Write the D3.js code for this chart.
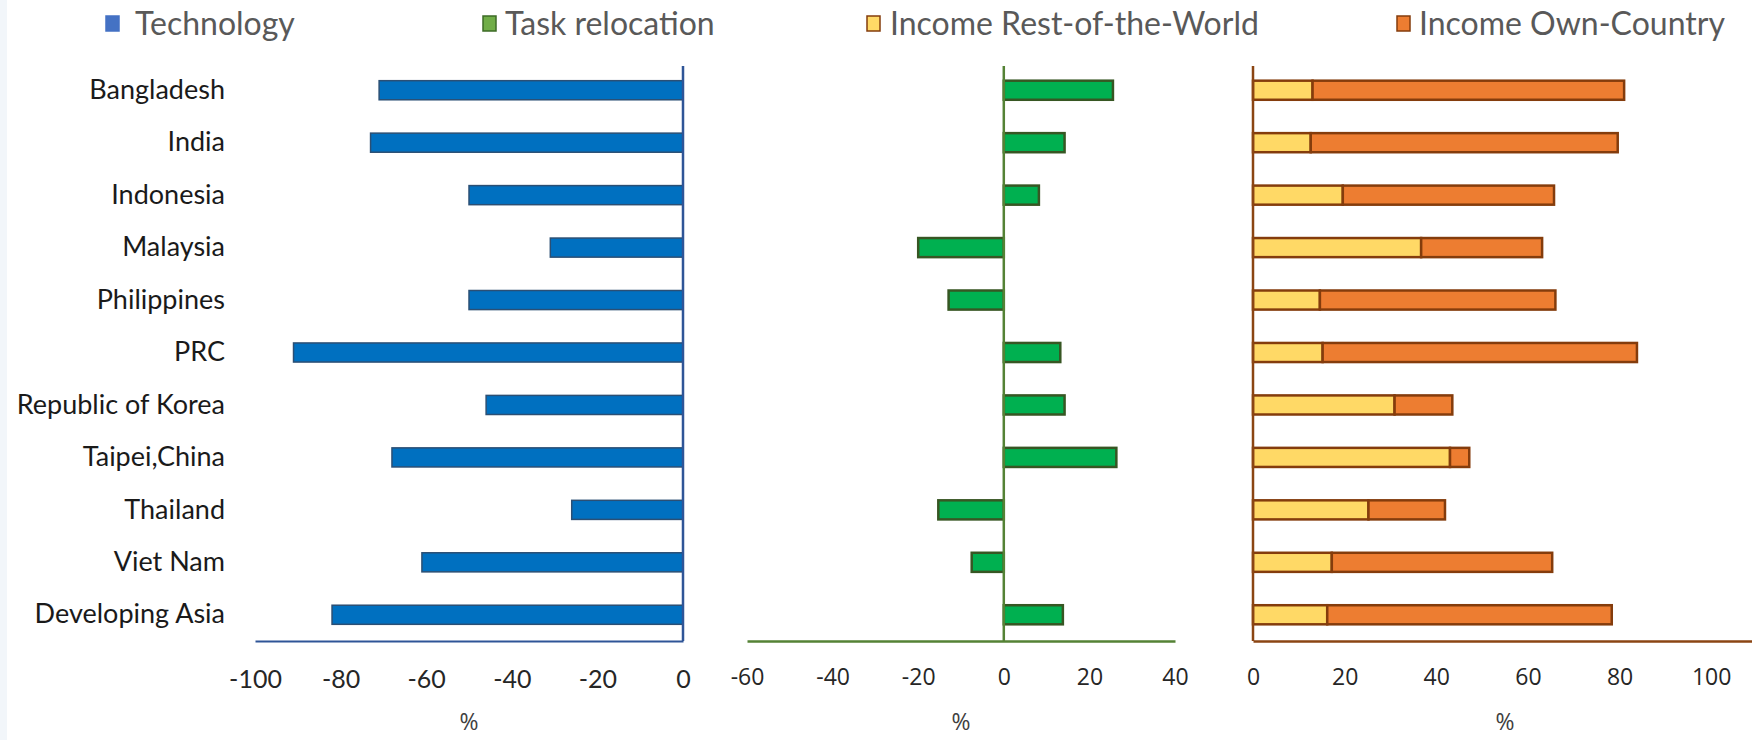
<!DOCTYPE html>
<html>
<head>
<meta charset="utf-8">
<script src="https://cdn.jsdelivr.net/npm/d3@7"></script>
<style>
  html, body { margin: 0; padding: 0; background: #ffffff; }
  svg { display: block; }
</style>
</head>
<body>
<svg id="chart" width="1752" height="740"></svg>
<script>
// Economies shown on every panel, top to bottom
const categories = ["Bangladesh", "India", "Indonesia", "Malaysia", "Philippines", "PRC",
  "Republic of Korea", "Taipei,China", "Thailand", "Viet Nam", "Developing Asia"];

// Contribution to employment change, %
const technology = [-71, -73, -50, -31, -50, -91, -46, -68, -26, -61, -82];
const taskRelocation = [25.5, 14.2, 8.2, -20, -12.9, 13.2, 14.2, 26.3, -15.3, -7.5, 13.8];
const incomeRestOfWorld = [13.0, 12.6, 19.6, 36.7, 14.6, 15.2, 30.9, 43.0, 25.2, 17.2, 16.2];
const incomeOwnCountry = [68.0, 67.0, 46.1, 26.4, 51.4, 68.6, 12.6, 4.2, 16.7, 48.1, 62.1];

// Axis tick values per panel
const technologyTicks = [-100, -80, -60, -40, -20, 0];
const taskTicks = [-60, -40, -20, 0, 20, 40];
const incomeTicks = [0, 20, 40, 60, 80, 100];

const legendItems = ["Technology", "Task relocation", "Income Rest-of-the-World", "Income Own-Country"];

const svg = d3.select("#chart");

// faint strip at the left edge
svg.append("rect").attr("x", 0).attr("y", 0).attr("width", 7).attr("height", 740).attr("fill", "#f2f6fa");

const axisY = 641;
const y = d3.scaleBand().domain(categories).range([64, axisY]).paddingInner(0.636).paddingOuter(0.318);

const xTech = d3.scaleLinear().domain([-100, 0]).range([255, 683]);
const xTask = d3.scaleLinear().domain([-60, 40]).range([747, 1175]);
const xInc = d3.scaleLinear().domain([0, 110]).range([1253, 1757]);

const narrowFont = "Lato, 'Noto Sans', sans-serif";
const roundFont = "'Open Sans', 'Noto Sans', sans-serif";

function bottomAxis(scale, ticks, color, width, font, size, pad) {
  const g = svg.append("g").attr("transform", `translate(0,${axisY})`)
    .call(d3.axisBottom(scale).tickValues(ticks).tickFormat(d => String(d))
      .tickSize(0).tickSizeOuter(0).tickPadding(pad));
  g.select(".domain").attr("stroke", color).attr("stroke-width", width);
  g.selectAll("text").attr("font-family", font).attr("font-size", size).attr("fill", "#262626");
  return g;
}

function zeroLine(scale, color, width) {
  svg.append("line")
    .attr("x1", scale(0)).attr("x2", scale(0))
    .attr("y1", 66).attr("y2", axisY)
    .attr("stroke", color).attr("stroke-width", width);
}

function percentLabel(scale) {
  const r = scale.range();
  svg.append("text").attr("x", (r[0] + r[1]) / 2).attr("y", 730)
    .attr("text-anchor", "middle").attr("font-family", roundFont).attr("font-size", 23)
    .attr("fill", "#404040").text("%");
}

// ---- Panel 1: technology ----
svg.append("g").selectAll("rect").data(categories).join("rect")
  .attr("x", (d, i) => xTech(Math.min(0, technology[i])))
  .attr("width", (d, i) => Math.abs(xTech(technology[i]) - xTech(0)))
  .attr("y", d => y(d)).attr("height", y.bandwidth())
  .attr("fill", "#0070C0").attr("stroke", "#2b4f74").attr("stroke-width", 1.5);

bottomAxis(xTech, technologyTicks, "#2F5597", 2, narrowFont, 25, 29);
zeroLine(xTech, "#2F5597", 2.5);
percentLabel(xTech);

// category labels
const yAxis = svg.append("g").attr("transform", `translate(${xTech.range()[0]},0)`)
  .call(d3.axisLeft(y).tickSize(0).tickPadding(30));
yAxis.select(".domain").remove();
yAxis.selectAll("text").attr("font-family", narrowFont).attr("font-size", 27).attr("fill", "#1a1a1a");

// ---- Panel 2: task relocation ----
svg.append("g").selectAll("rect").data(categories).join("rect")
  .attr("x", (d, i) => xTask(Math.min(0, taskRelocation[i])))
  .attr("width", (d, i) => Math.abs(xTask(taskRelocation[i]) - xTask(0)))
  .attr("y", d => y(d)).attr("height", y.bandwidth())
  .attr("fill", "#00B050").attr("stroke", "#375623").attr("stroke-width", 2.5);

bottomAxis(xTask, taskTicks, "#548235", 2.5, roundFont, 23, 28);
zeroLine(xTask, "#548235", 2.5);
percentLabel(xTask);

// ---- Panel 3: income effects (stacked) ----
const stackRows = categories.map((c, i) => ({ cat: c, row: incomeRestOfWorld[i], own: incomeOwnCountry[i] }));
const stacked = d3.stack().keys(["row", "own"])(stackRows);
const incomeFill = { row: "#FFD966", own: "#ED7D31" };

svg.append("g").selectAll("g").data(stacked).join("g")
  .attr("fill", s => incomeFill[s.key])
  .selectAll("rect").data(s => s).join("rect")
  .attr("x", d => xInc(d[0]))
  .attr("width", d => xInc(d[1]) - xInc(d[0]))
  .attr("y", d => y(d.data.cat)).attr("height", y.bandwidth())
  .attr("stroke", "#843C0C").attr("stroke-width", 2.5);

bottomAxis(xInc, incomeTicks, "#8B4513", 2.5, roundFont, 23, 28);
zeroLine(xInc, "#8B4513", 2.5);
percentLabel(xInc);

// ---- Legend ----
const legendPos = [
  { sx: 106, tx: 135, fill: "#4472C4", stroke: "#4472C4" },
  { sx: 483, tx: 505, fill: "#70AD47", stroke: "#3d6b26" },
  { sx: 867, tx: 890, fill: "#FFD966", stroke: "#843C0C" },
  { sx: 1397, tx: 1419, fill: "#ED7D31", stroke: "#843C0C" }
];
const legend = svg.append("g");
legendItems.forEach((name, i) => {
  const p = legendPos[i];
  legend.append("rect").attr("x", p.sx).attr("y", 16).attr("width", 13).attr("height", 15)
    .attr("fill", p.fill).attr("stroke", p.stroke).attr("stroke-width", 1.5);
  legend.append("text").attr("x", p.tx).attr("y", 35)
    .attr("font-family", narrowFont).attr("font-size", 32).attr("fill", "#595959").text(name);
});
</script>
</body>
</html>
